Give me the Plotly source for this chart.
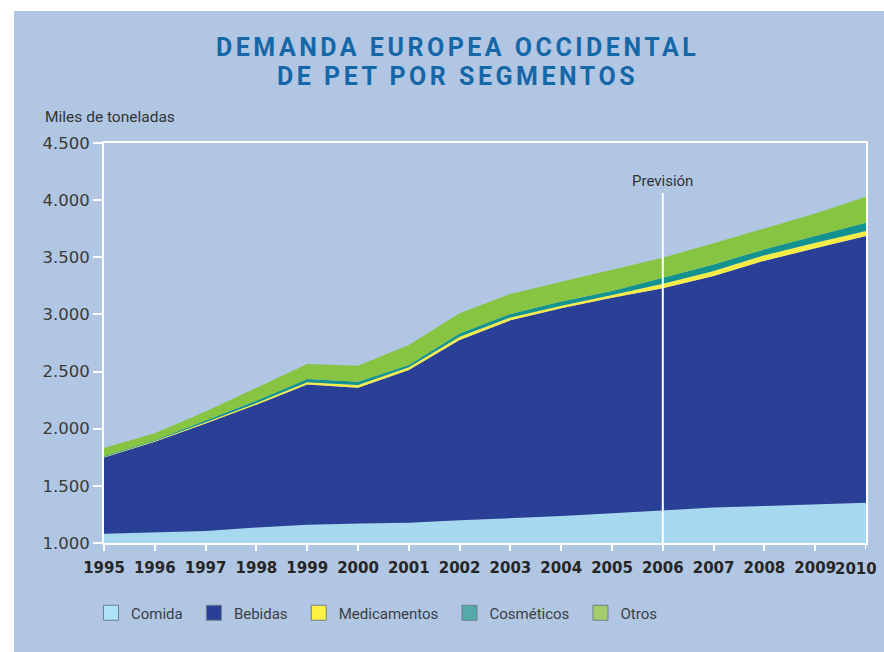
import plotly.graph_objects as go

years = list(range(1995, 2011))
comida = [1080, 1090, 1105, 1135, 1160, 1170, 1178, 1198, 1215, 1237, 1260, 1288, 1310, 1324, 1338, 1353]
bebidas = [668, 796, 940, 1075, 1226, 1189, 1336, 1578, 1733, 1817, 1885, 1942, 2026, 2146, 2240, 2333]
medicamentos = [5, 6, 12, 15, 20, 24, 23, 28, 26, 22, 24, 38, 45, 48, 49, 44]
cosmeticos = [5, 6, 15, 20, 28, 29, 20, 30, 30, 38, 37, 50, 55, 52, 59, 72]
otros = [73, 63, 78, 115, 132, 139, 175, 176, 175, 173, 183, 179, 186, 183, 197, 228]

series_names = ["Comida", "Bebidas", "Medicamentos", "Cosméticos", "Otros"]
series_values = [comida, bebidas, medicamentos, cosmeticos, otros]
area_colors = ["#a6d9f0", "#2a3f96", "#f6ec48", "#12938f", "#87c441"]
legend_colors = ["#aee2f8", "#2a3f96", "#fff141", "#55a9a9", "#a4cc6a"]

y_tickvals = [1000, 1500, 2000, 2500, 3000, 3500, 4000, 4500]
y_ticktext = ["1.000", "1.500", "2.000", "2.500", "3.000", "3.500", "4.000", "4.500"]
x_ticktext = [str(y) for y in years]

BG = "#b1c6e2"

fig = go.Figure()
for name, vals, col in zip(series_names, series_values, area_colors):
    fig.add_trace(go.Scatter(
        x=years, y=vals, name=name, stackgroup="one", mode="lines",
        line=dict(width=0, color=col), fillcolor=col, showlegend=False,
    ))
for name, col in zip(series_names, legend_colors):
    fig.add_trace(go.Scatter(
        x=[None], y=[None], name=name + "\u2009\u2009", mode="markers",
        marker=dict(symbol="square", size=15, color=col, line=dict(color="#6f7f8f", width=1)),
    ))

OFF = 8  # default page body margin: figure sits at (8, 8)
W, H = 876, 636
L, T = 104 - OFF, 143 - OFF
R = W - (866 - OFF)
B = H - (543 - OFF)
pw, ph = W - L - R, H - T - B

def px(xp):
    return (xp - OFF - L) / pw

def py(yp):
    return (T + ph - (yp - OFF)) / ph

xtick_font = dict(family="DejaVu Sans, sans-serif", size=15, color="#262626", weight="bold")

fig.update_layout(
    width=W, height=H,
    margin=dict(l=L, r=R, t=T, b=B, pad=0, autoexpand=False),
    paper_bgcolor="rgba(0,0,0,0)",
    plot_bgcolor="rgba(0,0,0,0)",
    showlegend=True,
    legend=dict(
        orientation="h", x=px(91), xanchor="left", y=py(613), yanchor="middle",
        font=dict(family="Roboto, Liberation Sans, sans-serif", size=15, color="#3a3f48"),
        bgcolor="rgba(0,0,0,0)", itemsizing="trace", traceorder="normal",
    ),
    xaxis=dict(
        range=[1995, 2010], tickvals=years[:-1], ticktext=x_ticktext[:-1],
        showgrid=False, zeroline=False, automargin=False,
        showline=True, linecolor="white", linewidth=2, mirror=True,
        ticks="outside", ticklen=6, tickwidth=2, tickcolor="white",
        tickfont=xtick_font, ticklabelstandoff=4,
    ),
    yaxis=dict(
        range=[1000, 4500], tickvals=y_tickvals, ticktext=y_ticktext,
        showgrid=False, zeroline=False, automargin=False,
        showline=True, linecolor="white", linewidth=2, mirror=True,
        ticks="outside", ticklen=9, tickwidth=2, tickcolor="white",
        tickfont=dict(family="DejaVu Sans, sans-serif", size=16.5, color="#3a3a3a"),
    ),
    shapes=[
        dict(type="line", xref="x", yref="paper", x0=2006, x1=2006, y0=0, y1=py(193),
             line=dict(color="white", width=2), layer="above"),
        dict(type="line", xref="x", yref="paper", x0=2010, x1=2010, y0=0, y1=py(549),
             line=dict(color="white", width=2), layer="above"),
    ],
    annotations=[
        dict(text='<b><span style="letter-spacing:3.5px">DEMANDA EUROPEA OCCIDENTAL</span></b>',
             xref="paper", yref="paper", x=px(457), y=py(47), xanchor="center", yanchor="middle",
             showarrow=False, font=dict(family="Roboto, Liberation Sans, sans-serif", size=25, color="#1667a8")),
        dict(text='<b><span style="letter-spacing:3.5px">DE PET POR SEGMENTOS</span></b>',
             xref="paper", yref="paper", x=px(457), y=py(76), xanchor="center", yanchor="middle",
             showarrow=False, font=dict(family="Roboto, Liberation Sans, sans-serif", size=25, color="#1667a8")),
        dict(text="Miles de toneladas", xref="paper", yref="paper", x=px(43), y=py(117),
             xanchor="left", yanchor="middle", showarrow=False,
             font=dict(family="Roboto, Liberation Sans, sans-serif", size=15.5, color="#333333")),
        dict(text="Previsión", xref="x", yref="paper", x=2006, y=py(181),
             xanchor="center", yanchor="middle", showarrow=False,
             font=dict(family="Roboto, Liberation Sans, sans-serif", size=15, color="#333333")),
        dict(text=x_ticktext[-1], xref="x", yref="paper", x=years[-1], y=py(569),
             xanchor="right", yanchor="middle", xshift=13, showarrow=False, font=xtick_font),
    ],
)

page_bg = ("linear-gradient(#ffffff,#ffffff) 0 0/100% 11px no-repeat, "
           "linear-gradient(#ffffff,#ffffff) 0 0/14px 100% no-repeat, " + BG)

fig.write_html(
    "out.html",
    config={"displayModeBar": False},
    post_script="document.documentElement.style.background='" + page_bg + "';",
)
